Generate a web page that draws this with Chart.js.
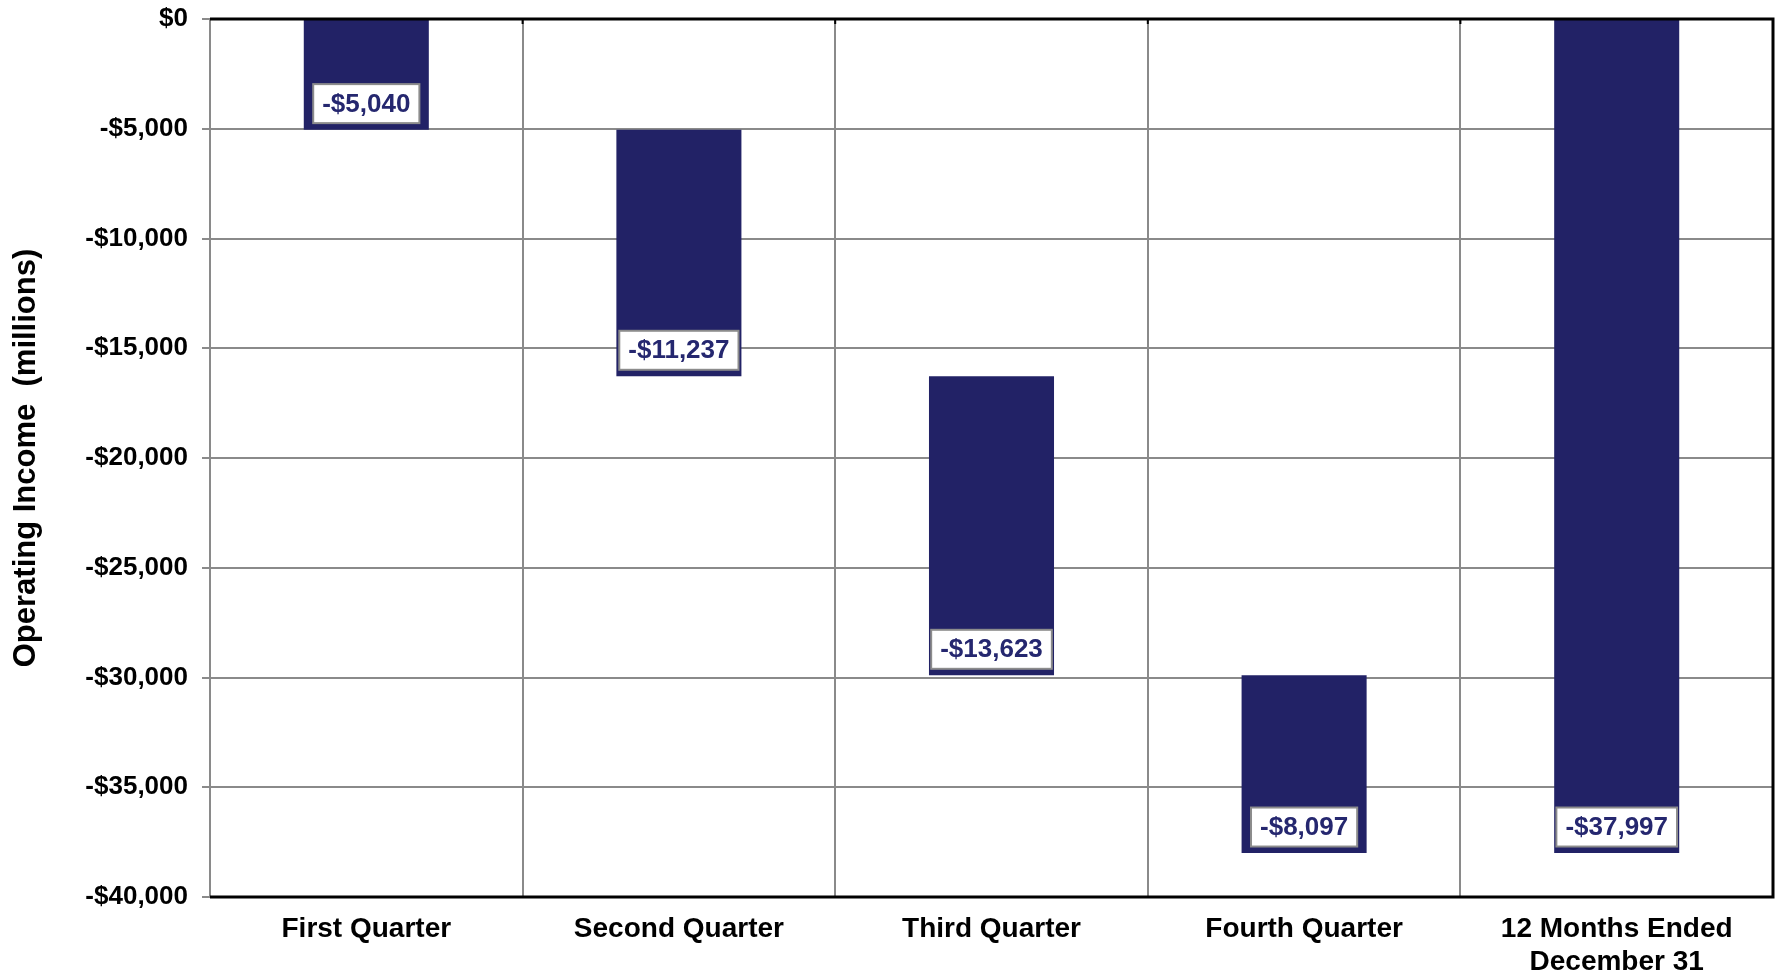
<!DOCTYPE html>
<html>
<head>
<meta charset="utf-8">
<script src="https://cdn.jsdelivr.net/npm/chart.js@4"></script>
<style>
  html, body { margin: 0; padding: 0; background: #fff; }
  #wrap { width: 1777px; height: 978px; }
</style>
</head>
<body>
<div id="wrap"><canvas id="chart" width="1777" height="978"></canvas></div>
<script>
const categories = ["First Quarter", "Second Quarter", "Third Quarter", "Fourth Quarter", ["12 Months Ended", "December 31"]];
const barStarts = [0, -5040, -16277, -29900, 0];
const barEnds = [-5040, -16277, -29900, -37997, -37997];
const valueLabels = ["-$5,040", "-$11,237", "-$13,623", "-$8,097", "-$37,997"];

const FONT = "'Liberation Sans', Arial, sans-serif";

// white boxed value labels sitting near the bottom of each bar
const boxLabels = {
  id: "boxLabels",
  afterDatasetsDraw(chart) {
    const ctx = chart.ctx;
    const meta = chart.getDatasetMeta(0);
    ctx.save();
    ctx.font = "bold 26px " + FONT;
    ctx.textAlign = "center";
    ctx.textBaseline = "middle";
    meta.data.forEach((bar, i) => {
      const bottom = Math.max(bar.y, bar.base);
      const cy = bottom - 26;
      const w = ctx.measureText(valueLabels[i]).width + 18;
      const h = 39;
      ctx.fillStyle = "#ffffff";
      ctx.fillRect(bar.x - w / 2, cy - h / 2, w, h);
      ctx.strokeStyle = "#8c8c8c";
      ctx.lineWidth = 2;
      ctx.strokeRect(bar.x - w / 2, cy - h / 2, w, h);
      ctx.fillStyle = "#25276f";
      ctx.fillText(valueLabels[i], bar.x, cy + 1);
    });
    ctx.restore();
  }
};

// black frame on top, right, bottom + small ticks on top edge
const frame = {
  id: "frame",
  afterDatasetsDraw(chart) {
    const { ctx, chartArea: a } = chart;
    ctx.save();
    ctx.strokeStyle = "#000";
    ctx.lineWidth = 3;
    ctx.beginPath();
    ctx.moveTo(a.left, a.top);
    ctx.lineTo(a.right, a.top);
    ctx.lineTo(a.right, a.bottom);
    ctx.lineTo(a.left, a.bottom);
    ctx.stroke();
    const step = (a.right - a.left) / categories.length;
    ctx.lineWidth = 2;
    for (let i = 1; i < categories.length; i++) {
      const x = a.left + step * i;
      ctx.beginPath();
      ctx.moveTo(x, a.top);
      ctx.lineTo(x, a.top + 5);
      ctx.stroke();
    }
    ctx.restore();
  }
};

new Chart(document.getElementById("chart"), {
  type: "bar",
  data: {
    labels: categories,
    datasets: [{
      data: barStarts.map((s, i) => [s, barEnds[i]]),
      backgroundColor: "#222266",
      borderWidth: 0,
      barPercentage: 0.4,
      categoryPercentage: 1
    }]
  },
  options: {
    responsive: false,
    animation: false,
    layout: { padding: { top: 19, right: 4, left: 0, bottom: 0 } },
    plugins: {
      legend: { display: false },
      tooltip: { enabled: false }
    },
    scales: {
      x: {
        grid: { color: "#8a8a8a", lineWidth: 2, drawTicks: false },
        border: { display: false },
        ticks: {
          color: "#000",
          font: { family: FONT, size: 28, weight: "bold", lineHeight: 1.18 },
          padding: 16,
          maxRotation: 0,
          autoSkip: false
        },
        afterFit(scale) { scale.height = 81; }
      },
      y: {
        min: -40000,
        max: 0,
        ticks: {
          stepSize: 5000,
          color: "#000",
          font: { family: FONT, size: 26, weight: "bold" },
          padding: 14,
          callback: v => (v < 0 ? "-$" : "$") + Math.abs(v).toLocaleString("en-US")
        },
        grid: { color: "#8a8a8a", lineWidth: 2, tickLength: 8, tickColor: "#8a8a8a" },
        border: { color: "#8a8a8a", width: 2 },
        title: {
          display: true,
          text: "Operating Income  (millions)",
          color: "#000",
          font: { family: FONT, size: 31, weight: "bold" },
          padding: { top: 8, bottom: 0 }
        },
        afterFit(scale) {
          scale.width = 210;
          scale.paddingTop = 0;
          scale.paddingBottom = 0;
        }
      }
    }
  },
  plugins: [boxLabels, frame]
});
</script>
</body>
</html>
